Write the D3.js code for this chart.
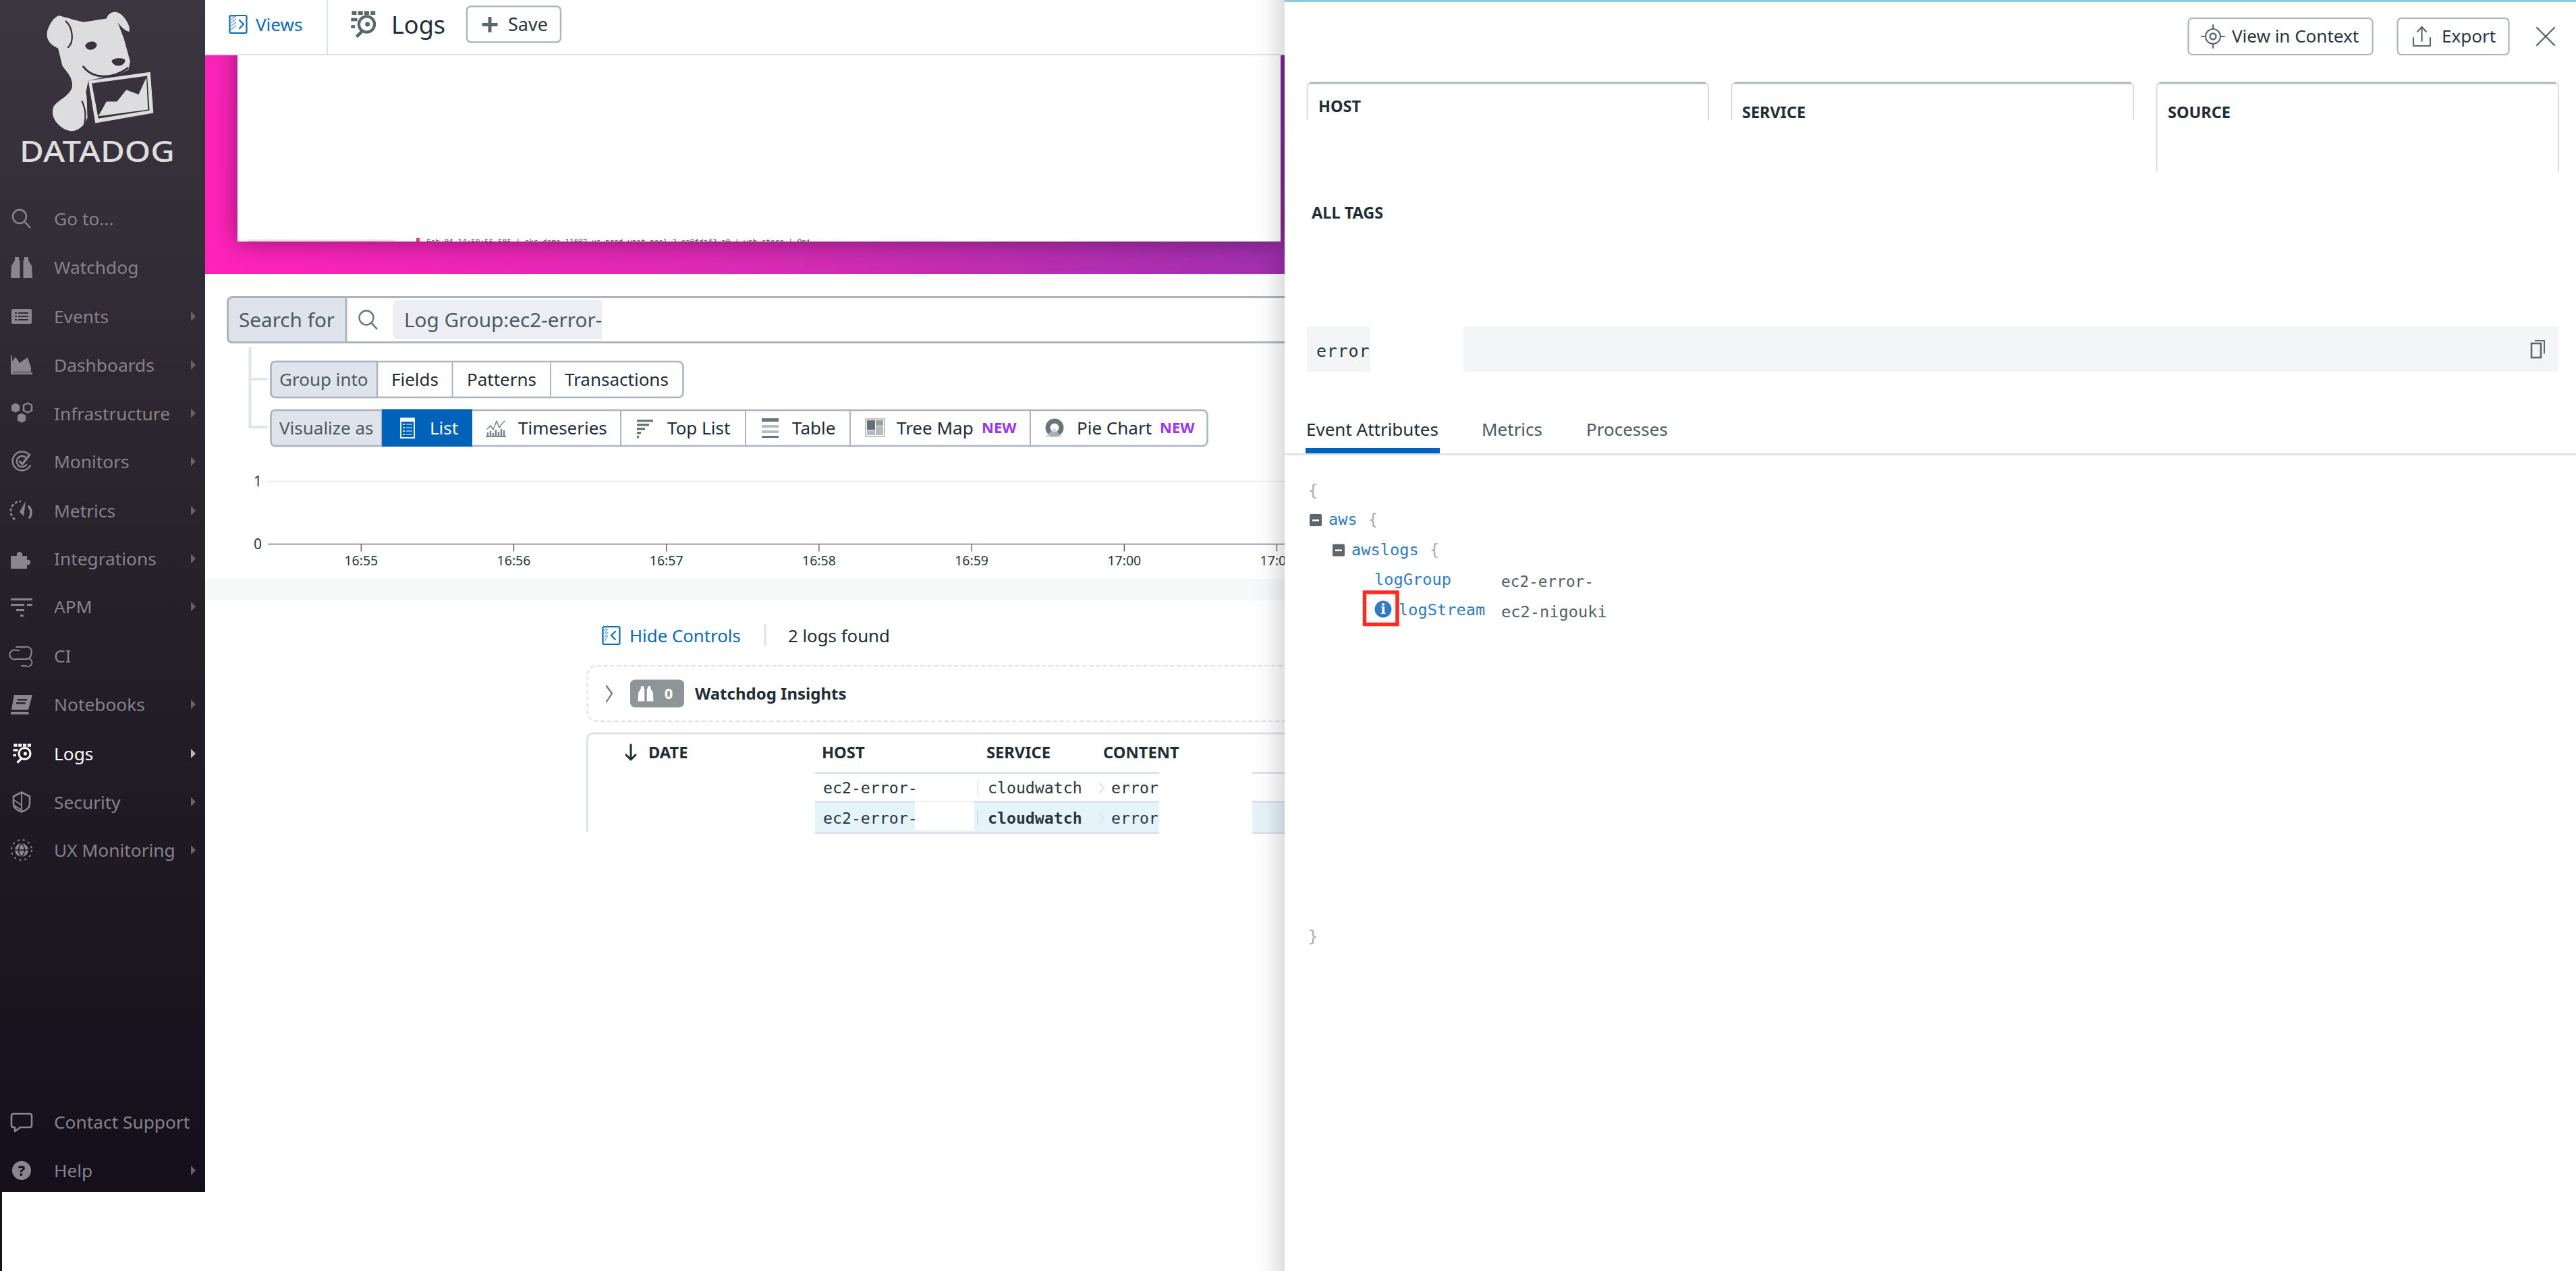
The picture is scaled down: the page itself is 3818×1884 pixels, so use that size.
<!DOCTYPE html>
<html><head><meta charset="utf-8">
<script src="https://cdn.jsdelivr.net/npm/d3@7/dist/d3.min.js"></script>
<style>html,body{margin:0;padding:0;background:#fff;overflow:hidden}svg{display:block}text{font-family:"Noto Sans",sans-serif}</style>
</head><body>
<script>
// ---- data ----
const navTop = ["Go to...","Watchdog","Events","Dashboards","Infrastructure","Monitors","Metrics","Integrations","APM","CI","Notebooks","Logs","Security","UX Monitoring"];
const navBottom = ["Contact Support","Help"];
const navArrows = [false,false,true,true,true,true,true,true,true,false,true,true,true,true];
const groupInto = ["Fields","Patterns","Transactions"];
const visualizeAs = ["List","Timeseries","Top List","Table","Tree Map","Pie Chart"];
const newBadges = ["Tree Map","Pie Chart"];
const timeTicks = ["16:55","16:56","16:57","16:58","16:59","17:00","17:01"];
const countTicks = [0,1];
const tableHeaders = ["DATE","HOST","SERVICE","CONTENT"];
const logHosts = ["ec2-error-","ec2-error-"];
const logServices = ["cloudwatch","cloudwatch"];
const logContents = ["error","error"];
const panelTabs = ["Event Attributes","Metrics","Processes"];
const panelCards = ["HOST","SERVICE","SOURCE"];

// ---- helpers ----
const W=3818,H=1884;
const svg=d3.select("body").append("svg").attr("width",W).attr("height",H).attr("viewBox",`0 0 ${W} ${H}`);
const defs=svg.append("defs");
const MONO='"DejaVu Sans Mono",monospace';
function rect(g,x,y,w,h,fill,o={}){const r=g.append("rect").attr("x",x).attr("y",y).attr("width",w).attr("height",h).attr("fill",fill||"none");
 if(o.rx)r.attr("rx",o.rx);if(o.stroke)r.attr("stroke",o.stroke).attr("stroke-width",o.sw||1);if(o.dash)r.attr("stroke-dasharray",o.dash);if(o.filter)r.attr("filter",o.filter);return r;}
function text(g,x,y,s,o={}){const t=g.append("text").attr("x",x).attr("y",y).attr("dy","0.35em").text(s).attr("fill",o.fill||"#1f2d36").attr("font-size",o.size||26);
 if(o.weight)t.attr("font-weight",o.weight);if(o.font)t.style("font-family",o.font);if(o.anchor)t.attr("text-anchor",o.anchor);if(o.ls)t.attr("letter-spacing",o.ls);if(o.tl)t.attr("textLength",o.tl).attr("lengthAdjust","spacingAndGlyphs");return t;}
function path(g,d,fill,o={}){const p=g.append("path").attr("d",d).attr("fill",fill||"none");if(o.stroke)p.attr("stroke",o.stroke).attr("stroke-width",o.sw||2).attr("stroke-linecap",o.cap||"round").attr("stroke-linejoin","round");return p;}
function line(g,x1,y1,x2,y2,c,w){return g.append("line").attr("x1",x1).attr("y1",y1).attr("x2",x2).attr("y2",y2).attr("stroke",c).attr("stroke-width",w||1);}
function at(g,x,y,s){return g.append("g").attr("transform",`translate(${x},${y})`+(s?` scale(${s})`:""));}

function glass(g,x,y,c,r){const a=at(g,x,y);a.append("circle").attr("cx",-3).attr("cy",-3).attr("r",r||10).attr("fill","none").attr("stroke",c).attr("stroke-width",2.4);line(a,5,5,13,14,c,2.6);}
function logsIcon(g,x,y,c,s){const a=at(g,x,y,s||1);
 [[-16,-16,6],[-8,-16,6],[0,-16,6],[8,-16,6]].forEach(d=>rect(a,d[0],d[1]-1,d[2],5,c));
 [[-17,-8,8],[-17,1,5]].forEach(d=>rect(a,d[0],d[1],d[2],4,c));
 a.append("circle").attr("cx",3).attr("cy",0).attr("r",10).attr("fill","none").attr("stroke",c).attr("stroke-width",3.6);
 a.append("circle").attr("cx",4).attr("cy",0).attr("r",3).attr("fill",c);
 line(a,-3,9,-10,16,c,4);}
const BINO="M-16,16L-15,-2L-10,-10L-10,-15L-4,-15L-4,-10L-2.5,-10L-2.5,16ZM2.5,16L2.5,-10L4,-10L4,-15L10,-15L10,-10L15,-2L16,16Z";

const navIcons={
 "Go to...":(g,c)=>glass(g,0,0,c,10),
 "Watchdog":(g,c)=>path(g,BINO,c),
 "Events":(g,c)=>{rect(g,-15,-11,30,22,c,{rx:2});[-5,0,5].forEach(y=>{rect(g,-10,y-1,3,2,"#2f2a34");rect(g,-5,y-1,15,2,"#2f2a34");});},
 "Dashboards":(g,c)=>{path(g,"M-15,14L-15,-4L-9,-12L-3,-3L4,-8L9,-11L14,4L14,10L-13,10Z",c);rect(g,-16,11,32,3,c);rect(g,-16,-14,2,28,c);},
 "Infrastructure":(g,c)=>{path(g,"M-15,-12L-9,-15L-3,-12L-3,-4L-9,-1L-15,-4Z",c);path(g,"M3,-12L9,-15L15,-12L15,-4L9,-1L3,-4Z","none",{stroke:c,sw:2.5});path(g,"M-6,3L0,0L6,3L6,11L0,14L-6,11Z",c);},
 "Monitors":(g,c)=>{path(g,"M11,-10A14,14,0,1,0,13,6","none",{stroke:c,sw:2.5});path(g,"M6,-6A8,8,0,1,0,7,5","none",{stroke:c,sw:2.5});path(g,"M-3,0L1,4L12,-10","none",{stroke:c,sw:3});},
 "Metrics":(g,c)=>{g.append("path").attr("d","M-10,13A15,15,0,0,1,-1,-14").attr("fill","none").attr("stroke",c).attr("stroke-width",3).attr("stroke-dasharray","4 3");path(g,"M11,-6A15,15,0,0,1,12,10","none",{stroke:c,sw:3.5});path(g,"M6,-14L-3,2L3,8Z",c);},
 "Integrations":(g,c)=>path(g,"M-16,-4L-7,-4C-9,-12 3,-12 1,-4L8,-4L8,2C15,0 15,11 8,9L8,15L-16,15Z",c),
 "APM":(g,c)=>{rect(g,-16,-12,32,3,c);rect(g,-16,-4,20,3,c);rect(g,8,-4,8,3,c);rect(g,-8,4,12,3,c);rect(g,-2,12,5,3,c);},
 "CI":(g,c)=>path(g,"M-4,-8L-8,-8A7,7,0,1,0,-8,5L6,5A6,6,0,1,1,6,15L0,15M-8,-13L6,-13A7,7,0,0,1,14,-3A7,7,0,0,1,6,5","none",{stroke:c,sw:2}),
 "Notebooks":(g,c)=>{path(g,"M-11,-14L16,-14L10,8L-15,8Z",c);path(g,"M-16,11L10,11L11,15L-16,15Z",c);rect(g,-6,-8,14,2.5,"#2a2530");rect(g,-8,-3,14,2.5,"#2a2530");},
 "Logs":(g,c)=>logsIcon(g,2,0,c,.85),
 "Security":(g,c)=>{path(g,"M0,-14L12,-8L12,3C12,9 6,13 0,15C-6,13 -12,9 -12,3L-12,-8Z","none",{stroke:c,sw:2.6});path(g,"M0,-14L0,15M-12,-3L0,5M-12,5L0,12",null,{stroke:c,sw:2});},
 "UX Monitoring":(g,c)=>{g.append("circle").attr("r",10).attr("fill",c);path(g,"M-10,0L10,0M0,-10C-6,-4 -6,4 0,10M0,-10C6,-4 6,4 0,10",null,{stroke:"#1d1822",sw:1.5});g.append("circle").attr("r",15).attr("fill","none").attr("stroke",c).attr("stroke-width",2).attr("stroke-dasharray","3 5");},
 "Contact Support":(g,c)=>path(g,"M-12,-12L12,-12Q15,-12 15,-9L15,5Q15,8 12,8L-2,8L-10,14L-10,8L-12,8Q-15,8 -15,5L-15,-9Q-15,-12 -12,-12Z","none",{stroke:c,sw:2.6}),
 "Help":(g,c)=>{g.append("circle").attr("r",14).attr("fill",c);text(g,0,0,"?",{fill:"#17111d",size:22,weight:800,anchor:"middle"});}
};

// ---- gradients, filters ----
const sg=defs.append("linearGradient").attr("id","side").attr("x1",0).attr("y1",0).attr("x2",0).attr("y2",1);
sg.append("stop").attr("offset",0).attr("stop-color","#3b3640");sg.append("stop").attr("offset",.5).attr("stop-color","#262029");sg.append("stop").attr("offset",1).attr("stop-color","#150f1b");
const pg=defs.append("linearGradient").attr("id","pink").attr("gradientUnits","userSpaceOnUse").attr("x1",304).attr("y1",406).attr("x2",1903).attr("y2",82);
pg.append("stop").attr("offset",0).attr("stop-color","#ff22b8");pg.append("stop").attr("offset",.5).attr("stop-color","#d82ab4");pg.append("stop").attr("offset",1).attr("stop-color","#9a30ae");
const shg=defs.append("linearGradient").attr("id","pshadow");
shg.append("stop").attr("offset",0).attr("stop-color","#000").attr("stop-opacity",0);shg.append("stop").attr("offset",.45).attr("stop-color","#000").attr("stop-opacity",.02);shg.append("stop").attr("offset",1).attr("stop-color","#000").attr("stop-opacity",.13);
const f=defs.append("filter").attr("id","soft").attr("x","-5%").attr("y","-15%").attr("width","110%").attr("height","130%");
f.append("feDropShadow").attr("dx",0).attr("dy",0).attr("stdDeviation",18).attr("flood-color","#000").attr("flood-opacity",.42);
defs.append("clipPath").attr("id","band").append("rect").attr("x",304).attr("y",82).attr("width",1600).attr("height",324);
defs.append("clipPath").attr("id","shot").append("rect").attr("x",352).attr("y",82).attr("width",1546).attr("height",276);

// ---- main page ----
const page=svg.append("g");
rect(page,304,0,1600,H,"#fff");

// top bar
rect(page,304,80,1600,3,"#e0e4eb");
line(page,485,0,485,80,"#e0e4eb",2.5);
const viewsIcon=at(page,353,36);
rect(viewsIcon,-12.5,-13,25,26,"#fff",{stroke:"#0a68bd",sw:2.2,rx:2});
for(let i=0;i<5;i++)line(viewsIcon,-11,8-i*5,-3,2-i*5>-12?2-i*5:-12,"#5a9bd6",1.2);
path(viewsIcon,"M2,-6L8,0L2,6",null,{stroke:"#0a68bd",sw:2.2});
text(page,379,37,"Views",{fill:"#0a68bd",size:26});
logsIcon(page,540,36,"#5c666d",1.16);
text(page,580,37,"Logs",{fill:"#1f2d36",size:36});
rect(page,692,9.5,139,53,"#fff",{stroke:"#b0b7c5",sw:2.5,rx:6});
path(page,"M726,25L726,48M714.5,36.5L737.5,36.5",null,{stroke:"#5c666d",sw:5,cap:"butt"});
text(page,753,36.5,"Save",{fill:"#2a3740",size:27});

// pink banner with screenshot card
const band=page.append("g").attr("clip-path","url(#band)");
rect(band,304,82,1600,324,"url(#pink)");
rect(band,352,60,1546,298,"#fff",{filter:"url(#soft)"});
const shot=page.append("g").attr("clip-path","url(#shot)");
rect(shot,367,355,218,3,"#e4e4e4");
rect(shot,617,353,5,5,"#e24a4a");
text(shot,632,358,"Feb 04 14:50:55.585 | eks-demo-11807-us-prod-vpot-pool-2-ea0fda42-a0 | web-store | Oni",{font:MONO,size:11,fill:"#555"});

// search bar
rect(page,337.5,440.5,1600,67,"#fff",{stroke:"#adb3c2",sw:3,rx:8});
path(page,"M513,440.5L345,440.5Q337.5,440.5 337.5,448L337.5,500Q337.5,507.5 345,507.5L513,507.5Z","#dfe3ec",{stroke:"#adb3c2",sw:3});
text(page,354,475,"Search for",{fill:"#4d5961",size:29.7});
glass(page,546,474,"#6a747b",10.5);
path(page,"M892,445L592,445Q582,445 582,455L582,493Q582,503 592,503L892,503Z","#eceef3");
text(page,599,475,"Log Group:ec2-error-",{fill:"#4d5961",size:29.7});

// connectors
rect(page,368.5,515,4,120,"#e0e4ec");
rect(page,368.5,560,28,4,"#e0e4ec");
rect(page,368.5,631,28,4,"#e0e4ec");

// group into
rect(page,401.5,536,611,53,"#fff",{stroke:"#adb3c2",sw:2.5,rx:7});
path(page,"M559,536L408,536Q401.5,536 401.5,543L401.5,582Q401.5,589 408,589L559,589Z","#dfe3ec",{stroke:"#adb3c2",sw:2.5});
text(page,414,562.5,"Group into",{fill:"#4d5961",size:26});
const giX=[580,692,837],giDiv=[670.5,816];
groupInto.forEach((s,i)=>text(page,giX[i],562.5,s,{fill:"#1f2d36",size:26}));
giDiv.forEach(x=>line(page,x,536,x,589,"#adb3c2",2));

// visualize as
rect(page,401.5,608,1388,53,"#fff",{stroke:"#adb3c2",sw:2.5,rx:7});
path(page,"M566,608L408,608Q401.5,608 401.5,615L401.5,654Q401.5,661 408,661L566,661Z","#dfe3ec",{stroke:"#adb3c2",sw:2.5});
text(page,414,634.5,"Visualize as",{fill:"#4d5961",size:26});
rect(page,566,606.5,134,55.5,"#0062b8");
const vizX=[637,768,989,1174,1329,1596],vizIcon=[604,735,956,1142,1297,1563],vizDiv=[920,1105,1260,1527],newX={"Tree Map":1455,"Pie Chart":1719};
visualizeAs.forEach((s,i)=>{text(page,vizX[i],634.5,s,{fill:i===0?"#fff":"#1f2d36",size:26});
 if(newBadges.includes(s))text(page,newX[s],634.5,"NEW",{fill:"#9933ff",size:22,weight:700});});
vizDiv.forEach(x=>line(page,x,608,x,661,"#adb3c2",2));
const li=at(page,vizIcon[0],634);rect(li,-10,-14,20,29,"none",{stroke:"#fff",sw:1.8});rect(li,-10,-14,20,5,"#fff");[-5,0,5,10].forEach(y=>{line(li,-7,y,-4,y,"#fff",1.6);line(li,-2,y,7,y,"#8fc4f0",1.6);});
const ti=at(page,vizIcon[1],634);path(ti,"M-13,2L-8,-3L-4,3L1,-10L5,0L9,-6L13,-10",null,{stroke:"#79838a",sw:1.5});[-12,-8,-4,0,4,8,12].forEach((x,i)=>line(ti,x,12,x,[7,5,8,3,6,2,4][i],"#79838a",2.5));rect(ti,-15,12,30,2,"#79838a");
const tl=at(page,vizIcon[2],634);[[-12,-12,24],[-12,-6,18],[-12,0,12],[-12,6,6],[-12,12,3]].forEach(d=>rect(tl,d[0],d[1],d[2],3.4,"#6a747b"));
const tb=at(page,vizIcon[3],634);rect(tb,-13,-14,25,5,"#6a747b");rect(tb,-13,-4,25,4,"#b8bdc2");rect(tb,-13,4,25,4,"#b8bdc2");rect(tb,-13,12,25,3,"#6a747b");
const tm=at(page,vizIcon[4],634);rect(tm,-14,-13,28,26,"#fff",{stroke:"#a8aeb3",sw:1.5});rect(tm,-12,-11,12,14,"#666f75");rect(tm,1,-11,11,8,"#9aa1a6");rect(tm,-12,4,12,7,"#b5babe");rect(tm,1,-2,11,13,"#b5babe");
const pi=at(page,vizIcon[5],634);pi.append("circle").attr("r",10).attr("fill","none").attr("stroke","#6a747b").attr("stroke-width",7);pi.append("path").attr("d","M0,0L-14,14L10,14Z").attr("fill","#c4c8cc").attr("opacity",.7);

// histogram axes
const x=d3.scaleLinear().domain([0,timeTicks.length-1]).range([534.8,1892]);
const y=d3.scaleLinear().domain([0,1]).range([806.5,713.5]);
const xAxis=at(page,0,y(0)).call(d3.axisBottom(x).tickValues(d3.range(timeTicks.length)).tickFormat(i=>timeTicks[i]).tickSize(11).tickSizeOuter(0).tickPadding(7));
xAxis.selectAll("text").attr("font-size",19.5).attr("fill","#2a3740").style("font-family",'"Noto Sans",sans-serif');
xAxis.selectAll("line").attr("stroke","#555").attr("stroke-width",1.3);
xAxis.select(".domain").remove();
line(page,397,y(0),1904,y(0),"#777",1.6);
countTicks.filter(d=>d>0).forEach(d=>line(page,397,y(d),1904,y(d),"#e7e9ed",1.6));
const yAxis=at(page,388,0).call(d3.axisLeft(y).tickValues(countTicks).tickFormat(d3.format("d")).tickSize(0).tickPadding(0));
yAxis.select(".domain").remove();
yAxis.selectAll("text").attr("font-size",21).attr("fill","#2a3740").style("font-family",'"Noto Sans",sans-serif');

// grey strip
rect(page,304,858,1600,32,"#f7f8fa");

// controls row
const hc=at(page,906,942);
rect(hc,-12.5,-13,25,26,"#fff",{stroke:"#0a68bd",sw:2.2,rx:2});
path(hc,"M6,-6L0,0L6,6",null,{stroke:"#0a68bd",sw:2.2});
for(let i=0;i<4;i++)line(hc,-10,8-i*5,-5,0-i*5,"#5a9bd6",1.2);
text(page,933,943,"Hide Controls",{fill:"#0a68bd",size:25.8});
line(page,1134,925,1134,958,"#dfe3ec",3);
text(page,1168,943,"2 logs found",{fill:"#1f2d36",size:25.8});

// watchdog insights
rect(page,870.5,987,1100,82,"#fff",{stroke:"#dfe2e8",sw:2.2,rx:14,dash:"6 4"});
path(page,"M899,1017L907,1028L899,1040",null,{stroke:"#6a747b",sw:2.2});
rect(page,934,1007.5,80,41,"#8e9599",{rx:7});
const bi=at(page,957,1028,.72);path(bi,BINO,"#fff");
text(page,991,1028,"0",{fill:"#fff",size:22,weight:700,anchor:"middle"});
text(page,1030,1029,"Watchdog Insights",{fill:"#1f2d36",size:24,weight:700});

// log table
path(page,"M870.5,1233L870.5,1096Q870.5,1087 880,1087L1910,1087","#fff",{stroke:"#dfe3ec",sw:3,cap:"butt"});
path(page,"M870.5,1100L870.5,1233",null,{stroke:"#dfe3ec",sw:1.5});
path(page,"M935,1104L935,1126M928,1119L935,1126L942,1119",null,{stroke:"#1f2d36",sw:3});
const headX=[961,1218,1462,1635];
tableHeaders.forEach((s,i)=>text(page,headX[i],1116,s,{fill:"#1f2d36",size:23.7,weight:700}));
rect(page,1208,1144,510,3,"#dfe3ec");
rect(page,1856,1144,50,3,"#dfe3ec");
rect(page,1208,1188,510,47,"#e5f3fb");
rect(page,1208,1187,510,3,"#dde3eb");
rect(page,1208,1233,510,3,"#dde3eb");
rect(page,1856,1188,50,47,"#e5f3fb");
rect(page,1856,1187,50,3,"#dde3eb");
rect(page,1856,1233,50,3,"#dde3eb");
rect(page,1356,1188,88,43,"#fff");
line(page,1449,1157,1449,1179,"#e3e6ea",1.5);
line(page,1449,1201,1449,1223,"#c9d6df",1.5);
const rowY=[1168,1213];
logHosts.forEach((s,i)=>text(page,1220,rowY[i],s,{font:MONO,size:23.2,fill:"#2a3740"}));
logServices.forEach((s,i)=>text(page,1464,rowY[i],s,{font:MONO,size:23.2,fill:"#2a3740",weight:i===1?700:400}));
logContents.forEach((s,i)=>{text(page,1647,rowY[i],s,{font:MONO,size:23.2,fill:"#2a3740"});
 path(page,`M1630,${rowY[i]-7}L1636,${rowY[i]}L1630,${rowY[i]+7}`,null,{stroke:"#dfe3e8",sw:2});});

// ---- sidebar ----
const side=svg.append("g");
rect(side,0,0,304,1767,"url(#side)");
rect(side,0,1767,3,H-1767,"#17121c");
const logo=at(side,0,0,1/1.742);
const LC="#dddcde";
path(logo,"M122,82C128,58 158,36 186,50L216,57L275,48C280,30 300,24 316,40C330,55 338,74 333,82C322,80 310,66 304,58L320,100L336,158L332,180L312,190L228,208L222,238C226,258 224,280 226,303C214,334 190,344 170,335C145,322 130,300 138,276C152,255 176,252 186,226C190,200 170,184 161,170L150,125C130,116 118,102 122,82Z",LC);
path(logo,"M228,208L388,186L396,292L246,318Z",LC);
path(logo,"M237,215L380,196L386,285L254,306Z","#37323b");
path(logo,"M254,300L275,262L302,262L326,232L358,244L378,200L382,283Z",LC);
path(logo,"M152,40L186,50L190,105C180,128 160,130 148,122C130,116 120,100 122,82C128,58 140,45 152,40Z",LC);
path(logo,"M170,55C188,70 192,108 176,122",null,{stroke:"#37323b",sw:4});
path(logo,"M220,118C226,104 248,104 250,116C250,128 225,136 220,118Z","#37323b");
path(logo,"M288,158C292,148 322,148 323,156C322,172 296,176 288,158Z","#37323b");
path(logo,"M215,172C240,205 290,205 330,176",null,{stroke:"#37323b",sw:5});
path(logo,"M212,262C222,285 222,300 218,320",null,{stroke:"#37323b",sw:4});
text(side,29,225,"DATADOG",{fill:LC,size:44,weight:500,tl:230});

const navY=[324,396,469,541,612.5,684,757,828,899,972,1044,1117,1188.5,1260];
navTop.forEach((s,i)=>{const active=s==="Logs";const c=active?"#fff":"#8a8690";
 const ic=at(side,32,navY[i]);navIcons[s](ic,c);
 text(side,80,navY[i]+1,s,{fill:active?"#fff":"#86828c",size:26.3});
 if(navArrows[i])path(side,`M283,${navY[i]-7}L290,${navY[i]}L283,${navY[i]+7}Z`,active?"#b9b7bc":"#66626c");});
const navBY=[1663,1735];
navBottom.forEach((s,i)=>{const ic=at(side,32,navBY[i]);navIcons[s](ic,"#8a8690");
 text(side,80,navBY[i]+1,s,{fill:"#86828c",size:26.3});
 if(s==="Help")path(side,`M283,${navBY[i]-7}L290,${navBY[i]}L283,${navBY[i]+7}Z`,"#66626c");});

// ---- right panel ----
const panel=svg.append("g");
rect(panel,1855,0,49,H,"url(#pshadow)");
rect(panel,1904,0,W-1904,H,"#fff");
rect(panel,1904,0,W-1904,3,"#8fc8e2");

// action buttons
rect(panel,3243.5,27,273,54,"#fff",{stroke:"#adb3c2",sw:2.2,rx:6});
rect(panel,3553.5,27,165,54,"#fff",{stroke:"#adb3c2",sw:2.2,rx:6});
const ctx=at(panel,3280,54);ctx.append("circle").attr("r",11).attr("fill","none").attr("stroke","#5c666d").attr("stroke-width",2);ctx.append("circle").attr("r",4.5).attr("fill","none").attr("stroke","#5c666d").attr("stroke-width",2.4);path(ctx,"M0,-17L0,-11M0,11L0,17M-17,0L-11,0M11,0L17,0",null,{stroke:"#5c666d",sw:2});
text(panel,3308,54,"View in Context",{fill:"#2a3740",size:26});
path(panel,"M3577,56L3577,68L3602,68L3602,56M3589.5,61L3589.5,41M3583,47L3589.5,40L3596,47",null,{stroke:"#5c666d",sw:2.2});
text(panel,3619,54,"Export",{fill:"#2a3740",size:26});
path(panel,"M3760,41L3786,67M3786,41L3760,67",null,{stroke:"#5c666d",sw:2.4});

// cards
[[1937.5,2532,178],[2566.5,3162,178],[3196.5,3792,254]].forEach(d=>{
 path(panel,`M${d[0]},${d[2]}L${d[0]},129Q${d[0]},123 ${d[0]+6},123L${d[1]-6},123Q${d[1]},123 ${d[1]},129L${d[1]},${d[2]}`,null,{stroke:"#d5d9e0",sw:1.8,cap:"butt"});
 line(panel,d[0]+4,123,d[1]-4,123,"#adb3c2",3);});
const cardX=[1954,2582,3213],cardY=[158,167,167];
panelCards.forEach((s,i)=>text(panel,cardX[i],cardY[i],s,{fill:"#1f2d36",size:23.5,weight:700}));
text(panel,1944,316,"ALL TAGS",{fill:"#1f2d36",size:23.5,weight:700});

// error row
rect(panel,1937,484,94,67,"#f4f5f7");
rect(panel,2169,484,1623,67,"#f4f5f7");
text(panel,1951,520,"error",{font:MONO,size:25,fill:"#2a3740",ls:.8});
const cp=at(panel,3760,516);rect(cp,-8,-7,14,21,"none",{stroke:"#5c666d",sw:2.6});path(cp,"M-3,-11L11,-11L11,8",null,{stroke:"#5c666d",sw:2,cap:"butt"});

// tabs
const tabX=[1936,2196,2351];
panelTabs.forEach((s,i)=>text(panel,tabX[i],637,s,{fill:i===0?"#1f2d36":"#4d5961",size:26}));
rect(panel,1904,672,W-1904,3,"#dfe3e8");
rect(panel,1935,664,199,8,"#0062b8");

// JSON tree
const KEY="#2f7cc4",VAL="#555f66",BR="#a8adb1";
const JS=23.7;
text(panel,1939,727,"{",{font:MONO,size:JS,fill:BR});
rect(panel,1941,762,18,18,"#5c666d",{rx:2});rect(panel,1945,770,10,2.6,"#fff");
text(panel,1969,770,"aws",{font:MONO,size:JS,fill:KEY});
text(panel,2028,770,"{",{font:MONO,size:JS,fill:BR});
rect(panel,1975,806.5,18,18,"#5c666d",{rx:2});rect(panel,1979,814.5,10,2.6,"#fff");
text(panel,2003,815,"awslogs",{font:MONO,size:JS,fill:KEY});
text(panel,2119,815,"{",{font:MONO,size:JS,fill:BR});
text(panel,2037,859,"logGroup",{font:MONO,size:JS,fill:KEY});
text(panel,2225,862,"ec2-error-",{font:MONO,size:JS,fill:VAL,tl:137});
text(panel,2073,904,"logStream",{font:MONO,size:JS,fill:KEY});
text(panel,2225,906.5,"ec2-nigouki",{font:MONO,size:JS,fill:VAL});
text(panel,1939,1388,"}",{font:MONO,size:JS,fill:BR});
rect(panel,2022.5,878,48.5,47.5,"none",{stroke:"#ff2a1f",sw:5.5});
panel.append("circle").attr("cx",2050).attr("cy",903).attr("r",12.5).attr("fill","#2f7cc4");
text(panel,2050,903,"i",{fill:"#fff",size:20,weight:800,anchor:"middle",font:'"DejaVu Serif",serif'});
</script>
</body></html>
